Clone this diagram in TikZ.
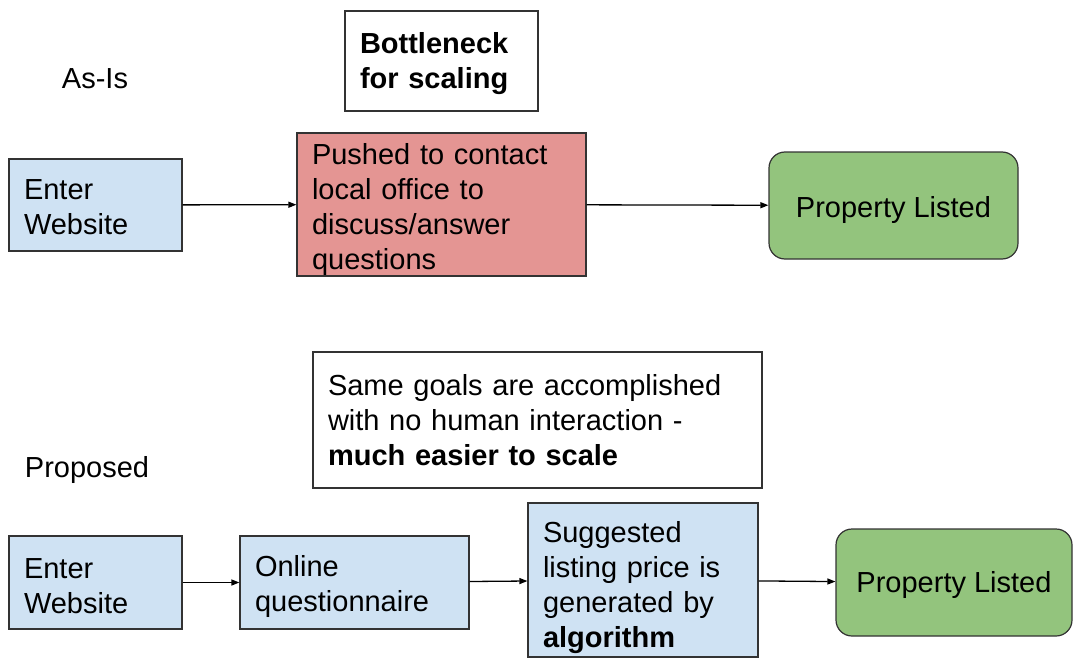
\documentclass[tikz,border=0pt]{standalone}
\usepackage{fontspec}
\setmainfont{Liberation Sans}
\usepackage{xcolor}
\usetikzlibrary{arrows.meta, positioning}
\definecolor{stepblue}{HTML}{CFE2F3}
\definecolor{stepred}{HTML}{E49593}
\definecolor{stepgreen}{HTML}{93C47D}
\definecolor{edgegray}{HTML}{333333}

\tikzset{
    flowbox/.style={draw=edgegray, line width=1.2pt, align=left, inner xsep=15pt, inner ysep=0pt},
    bluebox/.style={flowbox, fill=stepblue},
    redbox/.style={flowbox, fill=stepred},
    notebox/.style={flowbox, fill=white},
    greenbox/.style={draw=edgegray, line width=1.2pt, fill=stepgreen, rounded corners=16pt, align=center},
    textdrop/.style={execute at begin node={\rule{0pt}{\dimexpr 21pt+#1\relax}}},
    flowarrow/.style={-{Triangle[length=8pt,width=6pt]}, line width=1.3pt, black}
}

\begin{document}
\begin{tikzpicture}[x=1pt, y=-1pt, font=\fontsize{29}{35}\selectfont]

    % =================================================================
    % LAYER 0: THE CANVAS
    % =================================================================
    \useasboundingbox (0,0) rectangle (1075,658);
    \fill[white] (0,0) rectangle (1075,658);

    % =================================================================
    % LAYER 1: AS-IS FLOW
    % =================================================================
    \node (asis) at (95,79) {As-Is};

    \node[notebox, textdrop=6pt, text width=163pt, minimum height=100pt, font=\fontsize{29}{35}\selectfont\bfseries]
        (bottleneck) at (441.5,61) {Bottleneck\\for scaling};

    \node[bluebox, textdrop=3pt, text width=143pt, minimum height=92pt] (enterA) at (95.5,205) {Enter\\Website};
    \node[redbox, textdrop=10pt, text width=259pt, minimum height=143pt] (pushed) at (441.5,204.5)
        {Pushed to contact\\local office to\\discuss/answer\\questions};
    \node[greenbox, textdrop=10pt, minimum width=249pt, minimum height=107pt] (listedA) at (893.5,205.5) {Property Listed};

    \draw[flowarrow] (enterA) -- (pushed);
    \draw[flowarrow] (pushed) -- (listedA);

    % =================================================================
    % LAYER 2: PROPOSED FLOW
    % =================================================================
    \node (proposed) at (87,470) {Proposed};

    \node[notebox, text width=419pt, minimum height=136pt] (goals) at (537.5,420)
        {Same goals are accomplished\\with no human interaction -\\\textbf{much easier to scale}};

    \node[bluebox, textdrop=6pt, text width=143pt, minimum height=93pt] (enterB) at (95.5,582.5) {Enter\\Website};
    \node[bluebox, textdrop=8pt, text width=199pt, minimum height=93pt] (online) at (354.5,582.5) {Online\\questionnaire};
    \node[bluebox, textdrop=16pt, text width=200pt, minimum height=154pt] (suggested) at (643,580)
        {Suggested\\listing price is\\generated by\\\textbf{algorithm}};
    \node[greenbox, textdrop=6pt, minimum width=236pt, minimum height=107pt] (listedB) at (954,582.5) {Property Listed};

    \draw[flowarrow] (enterB) -- (online);
    \draw[flowarrow] (online) -- (suggested);
    \draw[flowarrow] (suggested) -- (listedB);

\end{tikzpicture}
\end{document}
